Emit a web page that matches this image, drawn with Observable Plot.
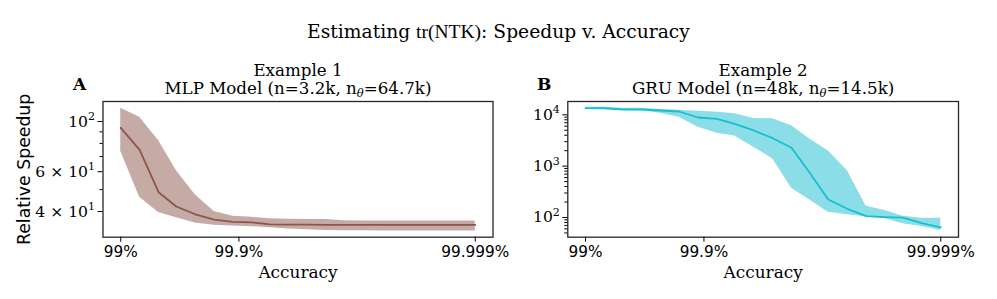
<!DOCTYPE html>
<html><head><meta charset="utf-8">
<script src="https://cdn.jsdelivr.net/npm/d3@7"></script>
<script src="https://cdn.jsdelivr.net/npm/@observablehq/plot@0.6"></script>
<style>
body{margin:0;background:#fff;}
#wrap{position:relative;width:997px;height:299px;overflow:hidden;background:#fff;}
#title{position:absolute;left:0;top:22px;width:997px;text-align:center;font-family:"DejaVu Serif";font-size:18.7px;line-height:1;color:#000;white-space:nowrap;}
#title .m{font-family:"Liberation Serif";font-size:19.5px;}
.panel{position:absolute;top:50px;}
</style></head><body>
<div id="wrap">
<div id="title">Estimating <span class="m">tr(NTK)</span>: Speedup v. Accuracy</div>
<div id="pa" class="panel" style="left:0px"></div>
<div id="pb" class="panel" style="left:497px"></div>
</div>
<script>
// x position = number of nines of accuracy (log10 of 1/(1-accuracy))
const nines = [2.00, 2.16, 2.32, 2.47, 2.63, 2.79, 2.95, 3.11, 3.26, 3.42, 3.58, 3.74, 3.89, 4.05, 4.21, 4.37, 4.53, 4.68, 4.84, 5.00];
const xTicks = [2, 3, 5];
const xTickLabels = ["99%", "99.9%", "99.999%"];

// Panel A: MLP model
const mlpMean = [93.8, 74.9, 48.7, 42.1, 38.9, 36.8, 36.0, 35.8, 35.1, 35.0, 35.0, 34.9, 34.9, 34.9, 34.9, 34.9, 34.9, 34.9, 34.9, 34.9];
const mlpHigh = [114.6, 104.5, 82.4, 60.7, 47.4, 40.0, 38.1, 37.7, 37.2, 37.0, 36.9, 36.9, 36.4, 36.3, 36.3, 36.3, 36.3, 36.3, 36.3, 36.3];
const mlpLow  = [73.9, 46.3, 39.6, 37.5, 35.6, 34.8, 34.5, 34.3, 33.9, 33.5, 33.2, 33.0, 32.9, 32.9, 32.8, 32.8, 32.8, 32.8, 32.8, 32.8];
const mlpYTicks = [40, 60, 100];
const mlpYTickLabels = ["4 × 10¹", "6 × 10¹", "10²"];
const mlpYMinor = [50, 70, 80, 90];

// Panel B: GRU model
const gruMean = [13440, 13400, 12690, 12690, 12130, 11590, 8860, 8360, 6680, 4950, 3500, 2280, 763, 224, 147.6, 106, 102, 99, 77.4, 63.9];
const gruHigh = [14060, 14060, 13440, 13440, 12690, 12290, 11750, 11240, 10450, 8500, 8360, 6100, 3400, 1970, 822, 166, 137, 106, 97, 97];
const gruLow  = [12690, 12690, 12130, 12000, 10740, 8980, 5740, 4390, 3850, 2340, 1390, 372, 222, 127, 113, 103, 94.4, 75.4, 66.8, 55.8];
const gruYTicks = [100, 1000, 10000];
const gruYTickLabels = ["10²", "10³", "10⁴"];
const gruYMinor = [50, 60, 70, 80, 90, 200, 300, 400, 500, 600, 700, 800, 900, 2000, 3000, 4000, 5000, 6000, 7000, 8000, 9000];

const serif = "DejaVu Serif", sans = "DejaVu Sans";
const axisColor = "#262626";
const supMap = {"¹": "1", "²": "2", "³": "3", "⁴": "4"};

function panel(o) {
  const data = nines.map((x, i) => ({x, mean: o.mean[i], lo: o.lo[i], hi: o.hi[i]}));
  const marks = [
    Plot.areaY(data, {x: "x", y1: "lo", y2: "hi", fill: o.color, fillOpacity: 0.5}),
    Plot.lineY(data, {x: "x", y: "mean", stroke: o.color, strokeWidth: 1.8}),
    Plot.frame({stroke: axisColor, strokeWidth: 1.3}),
    Plot.axisX({ticks: xTicks, tickFormat: d => xTickLabels[xTicks.indexOf(d)], tickSize: 5, tickPadding: 4,
      fontFamily: sans, fontSize: 15.3, label: null, color: "#000"}),
    Plot.axisY({ticks: o.yTicks, tickFormat: d => o.yLabels[o.yTicks.indexOf(d)], tickSize: 5, tickPadding: 3,
      fontFamily: serif, fontSize: 15.6, label: null, color: "#000"}),
    Plot.axisY({ticks: o.yMinor, tickFormat: () => "", tickSize: 3, label: null, color: "#000"}),
    Plot.text([o.title1], {text: d => d, frameAnchor: "top", dy: -26, lineAnchor: "bottom",
      fontFamily: serif, fontSize: 16.7, fill: "#000"}),
    Plot.text([o.title2], {text: d => d, frameAnchor: "top", dy: -7.7, lineAnchor: "bottom",
      fontFamily: serif, fontSize: 16.7, fill: "#000"}),
    Plot.text([o.letter], {text: d => d, frameAnchor: "top-left", dx: -23.5, dy: -12, textAnchor: "middle",
      lineAnchor: "bottom", fontFamily: serif, fontWeight: "bold", fontSize: 17, fill: "#000"}),
    Plot.text(["Accuracy"], {text: d => d, frameAnchor: "bottom", dy: 40.3, lineAnchor: "bottom",
      fontFamily: serif, fontSize: 16.9, fill: "#000"})
  ];
  if (o.ylabel) marks.push(Plot.text([o.ylabel], {text: d => d, frameAnchor: "left", dx: -73, rotate: -90,
      textAnchor: "middle", lineAnchor: "bottom", fontFamily: sans, fontSize: 17.3, fill: "#000"}));
  const svg = Plot.plot({
    width: o.width, height: 249,
    marginLeft: o.mL, marginRight: o.mR, marginTop: 51, marginBottom: 62.3,
    style: {background: "transparent", overflow: "visible"},
    x: {type: "linear", domain: [1.85, 5.15]},
    y: {type: "log", domain: o.yDomain},
    marks
  });
  const ns = "http://www.w3.org/2000/svg";
  svg.querySelectorAll("text").forEach(t => {
    const s = t.textContent;
    if (t.children.length !== 0) return;
    const i = s.indexOf("nθ");
    if (i >= 0) {
      // subscript theta in the model titles
      t.textContent = "";
      const a = document.createElementNS(ns, "tspan"); a.textContent = s.slice(0, i + 1);
      const b = document.createElementNS(ns, "tspan"); b.textContent = "θ";
      b.setAttribute("font-size", "11.5"); b.setAttribute("font-style", "italic"); b.setAttribute("dy", "3.5");
      const c = document.createElementNS(ns, "tspan"); c.textContent = s.slice(i + 2); c.setAttribute("dy", "-3.5");
      t.append(a, b, c);
      return;
    }
    const last = s.slice(-1);
    if (supMap[last] && s.length > 1) {
      // mathtext-like exponent
      t.textContent = "";
      const a = document.createElementNS(ns, "tspan"); a.textContent = s.slice(0, -1);
      const b = document.createElementNS(ns, "tspan"); b.textContent = supMap[last];
      b.setAttribute("font-size", "11"); b.setAttribute("dy", "-6.5");
      t.append(a, b);
    }
  });
  document.getElementById(o.el).append(svg);
}

panel({el: "pa", width: 497, mL: 102.5, mR: 4.5, yDomain: [30.8, 122.6],
  yTicks: mlpYTicks, yLabels: mlpYTickLabels, yMinor: mlpYMinor,
  mean: mlpMean, lo: mlpLow, hi: mlpHigh, color: "#8c564b", letter: "A",
  title1: "Example 1", title2: "MLP Model (n=3.2k, nθ=64.7k)", ylabel: "Relative Speedup"});
panel({el: "pb", width: 500, mL: 70.3, mR: 39, yDomain: [41.3, 18150],
  yTicks: gruYTicks, yLabels: gruYTickLabels, yMinor: gruYMinor,
  mean: gruMean, lo: gruLow, hi: gruHigh, color: "#17becf", letter: "B",
  title1: "Example 2", title2: "GRU Model (n=48k, nθ=14.5k)"});
</script></body></html>
